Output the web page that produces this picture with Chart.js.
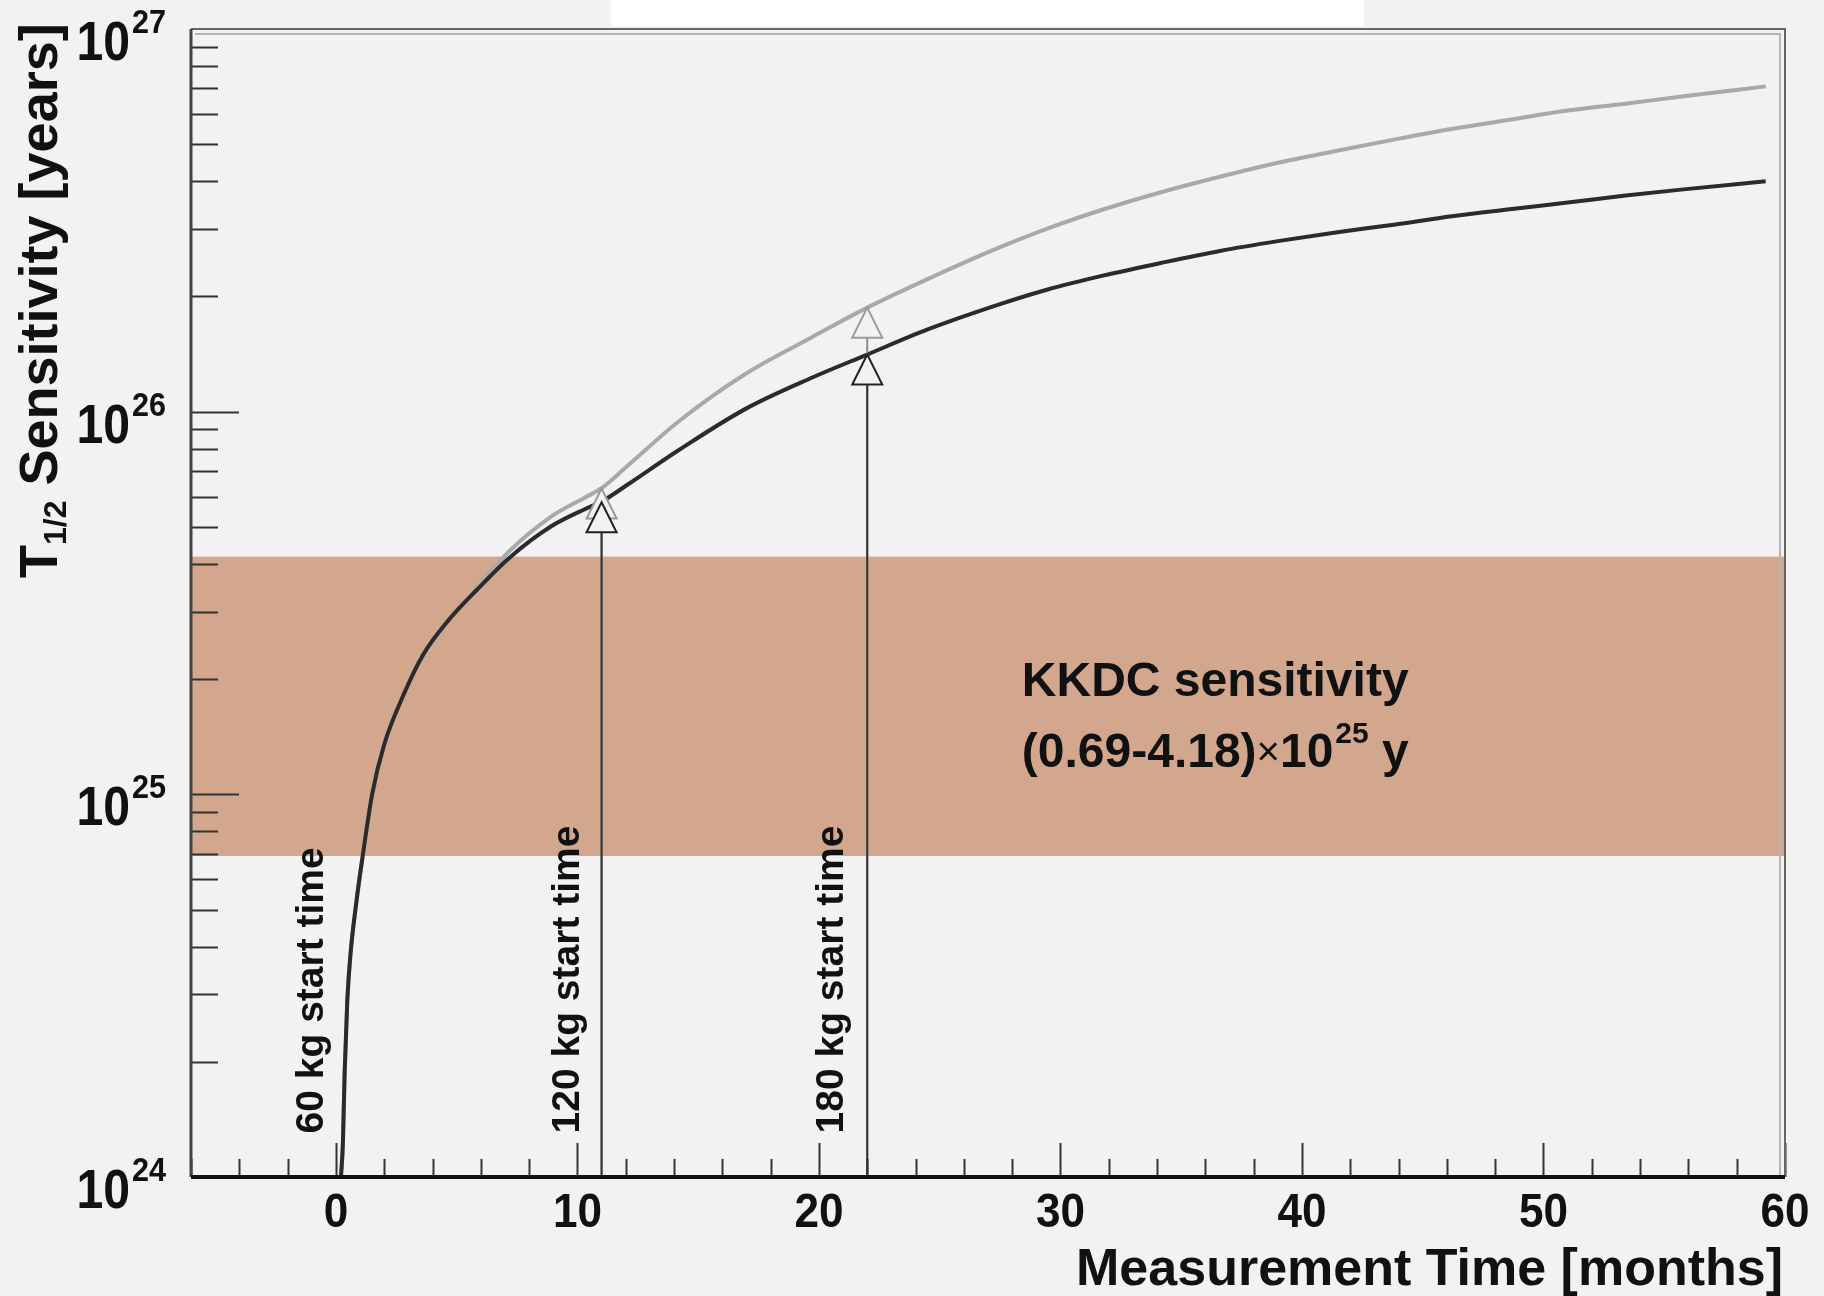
<!DOCTYPE html>
<html>
<head>
<meta charset="utf-8">
<title>T1/2 sensitivity vs measurement time</title>
<script src="https://cdn.jsdelivr.net/npm/chart.js@4.4.0/dist/chart.umd.min.js"></script>
<style>
  html, body { margin: 0; padding: 0; background: #f2f2f2; }
  #wrap { position: relative; width: 1824px; height: 1296px; }
  #cover { position: absolute; left: 611px; top: 0; width: 753px; height: 26px; background: #fff; }
</style>
</head>
<body>
<div id="wrap">
  <canvas id="sensChart" width="1824" height="1296"></canvas>
  <div id="cover"></div>
</div>
<script>
// measurement time [months]
const months = [0.21, 0.29, 0.36, 0.47, 0.6, 0.85, 1.1, 1.5, 2.0, 2.8, 3.6, 4.6, 5.85, 7.2, 8.9, 10.3, 11.0,
  12.1, 14.2, 17.0, 19.75, 22.0, 24.5, 27.5, 29.4, 31.8, 34.2, 36.6, 39.0, 41.4, 43.8, 46.2, 48.6, 51.0, 53.4, 55.8, 59.2];

// T1/2 sensitivity [years], dark curve
const sensDark = [1.00e24, 1.23e24, 1.86e24, 2.88e24, 3.80e24, 5.25e24, 6.84e24, 1.00e25, 1.35e25, 1.82e25, 2.31e25, 2.82e25,
  3.43e25, 4.16e25, 5.01e25, 5.56e25, 5.82e25, 6.46e25, 7.94e25, 1.02e26, 1.23e26, 1.41e26, 1.64e26, 1.91e26, 2.08e26,
  2.27e26, 2.45e26, 2.63e26, 2.79e26, 2.94e26, 3.08e26, 3.24e26, 3.38e26, 3.52e26, 3.67e26, 3.81e26, 4.00e26];

// T1/2 sensitivity [years], grey curve
const sensGrey = [1.00e24, 1.23e24, 1.86e24, 2.88e24, 3.80e24, 5.25e24, 6.84e24, 1.00e25, 1.35e25, 1.82e25, 2.31e25, 2.82e25,
  3.47e25, 4.33e25, 5.31e25, 5.96e25, 6.31e25, 7.24e25, 9.44e25, 1.26e26, 1.57e26, 1.87e26, 2.22e26, 2.69e26, 3.00e26,
  3.38e26, 3.75e26, 4.11e26, 4.47e26, 4.80e26, 5.14e26, 5.48e26, 5.79e26, 6.12e26, 6.38e26, 6.67e26, 7.08e26];

// KKDC band
const bandLow = 0.69e25;
const bandHigh = 4.18e25;

// start-time arrows
const arrowMonths = [11, 22];
const arrowDarkTip = [5.8e25, 1.41e26];
const arrowGreyTip = [6.3e25, 1.87e26];

const startLabels = ['60 kg start time', '120 kg start time', '180 kg start time'];
const startLabelMonths = [-1.1, 9.5, 20.4];
const startLabelBase = 1.3e24;

// axes
const xMajorTicks = [0, 10, 20, 30, 40, 50, 60];
const xTickLabels = ['0', '10', '20', '30', '40', '50', '60'];
const yDecades = [24, 25, 26, 27];
const yTickLabels = ['24', '25', '26', '27'];

const FONT = "'Liberation Sans', Arial, Helvetica, sans-serif";

function toPoints(xs, ys) {
    return xs.map((m, i) => ({ x: m, y: ys[i] }));
}

// text squeezed horizontally, like the original narrow bold font
function narrowText(ctx, text, x, y, sx, align) {
    const w = ctx.measureText(text).width * sx;
    let left = x;
    if (align === 'right') left = x - w;
    if (align === 'center') left = x - w / 2;
    ctx.save();
    ctx.textAlign = 'left';
    ctx.translate(left, y);
    ctx.scale(sx, 1);
    ctx.fillText(text, 0, 0);
    ctx.restore();
    return w;
}

function triangle(ctx, px, py, stroke) {
    // open triangle, apex at (px, py)
    ctx.beginPath();
    ctx.moveTo(px, py);
    ctx.lineTo(px + 15, py + 30);
    ctx.lineTo(px - 15, py + 30);
    ctx.closePath();
    ctx.fillStyle = '#f2f2f2';
    ctx.fill();
    ctx.lineWidth = 2;
    ctx.strokeStyle = stroke;
    ctx.stroke();
}

const decoPlugin = {
    id: 'deco',
    beforeDatasetsDraw(chart) {
        const { ctx, chartArea: a, scales: { y } } = chart;
        const top = y.getPixelForValue(bandHigh);
        const bot = y.getPixelForValue(bandLow);
        ctx.save();
        ctx.fillStyle = '#d2a78e';
        ctx.fillRect(a.left, top, a.right - a.left, bot - top);
        ctx.restore();
    },
    afterDatasetsDraw(chart) {
        const { ctx, chartArea: a, scales: { x, y } } = chart;
        ctx.save();

        // arrow heads
        arrowMonths.forEach((m, i) => {
            const px = x.getPixelForValue(m);
            triangle(ctx, px, y.getPixelForValue(arrowGreyTip[i]), '#9a9a9a');
            triangle(ctx, px, y.getPixelForValue(arrowDarkTip[i]), '#222');
        });

        // start time labels
        ctx.fillStyle = '#111';
        ctx.font = 'bold 39px ' + FONT;
        ctx.textAlign = 'left';
        ctx.textBaseline = 'alphabetic';
        startLabels.forEach((t, i) => {
            ctx.save();
            ctx.translate(x.getPixelForValue(startLabelMonths[i]) + 14, y.getPixelForValue(startLabelBase));
            ctx.rotate(-Math.PI / 2);
            ctx.fillText(t, 0, 0);
            ctx.restore();
        });

        // KKDC text
        const kx = x.getPixelForValue(28.4);
        const ky = y.getPixelForValue(1.81e25);
        ctx.font = 'bold 48px ' + FONT;
        ctx.fillText('KKDC sensitivity', kx, ky);
        let cx = kx;
        const ly = ky + 71;
        const part1 = '(0.69-4.18)';
        ctx.fillText(part1, cx, ly);
        cx += ctx.measureText(part1).width;
        ctx.font = '40px ' + FONT;
        ctx.fillText('\u00d7', cx, ly - 2);
        cx += ctx.measureText('\u00d7').width;
        ctx.font = 'bold 48px ' + FONT;
        ctx.fillText('10', cx, ly);
        cx += ctx.measureText('10').width + 2;
        ctx.font = 'bold 30px ' + FONT;
        ctx.fillText('25', cx, ly - 24);
        cx += ctx.measureText('25').width;
        ctx.font = 'bold 48px ' + FONT;
        ctx.fillText(' y', cx, ly);

        // ticks (inside the frame)
        ctx.strokeStyle = '#333';
        ctx.lineWidth = 2;
        ctx.beginPath();
        for (let m = -6; m <= 60; m += 2) {
            const px = Math.round(x.getPixelForValue(m)) + 0.5;
            const len = m % 10 === 0 ? 34 : 18;
            ctx.moveTo(px, a.bottom);
            ctx.lineTo(px, a.bottom - len);
        }
        for (let d = 24; d <= 26; d++) {
            for (let k = 1; k <= 9; k++) {
                const py = Math.round(y.getPixelForValue(k * Math.pow(10, d))) + 0.5;
                const len = k === 1 ? 48 : 27;
                ctx.moveTo(a.left, py);
                ctx.lineTo(a.left + len, py);
            }
        }
        ctx.stroke();

        // frame
        ctx.lineWidth = 2;
        ctx.strokeStyle = '#b4b4b4';
        ctx.beginPath();
        ctx.moveTo(a.left + 4, a.top + 5);
        ctx.lineTo(a.right - 5, a.top + 5);
        ctx.lineTo(a.right - 5, a.bottom);
        ctx.stroke();
        ctx.strokeStyle = '#666';
        ctx.beginPath();
        ctx.moveTo(a.left, a.top);
        ctx.lineTo(a.right, a.top);
        ctx.lineTo(a.right, a.bottom);
        ctx.stroke();
        ctx.strokeStyle = '#444';
        ctx.lineWidth = 3;
        ctx.beginPath();
        ctx.moveTo(a.left, a.top);
        ctx.lineTo(a.left, a.bottom);
        ctx.stroke();
        ctx.strokeStyle = '#111';
        ctx.lineWidth = 4;
        ctx.beginPath();
        ctx.moveTo(a.left, a.bottom);
        ctx.lineTo(a.right, a.bottom);
        ctx.stroke();

        // x tick labels
        ctx.fillStyle = '#111';
        ctx.font = 'bold 49px ' + FONT;
        xMajorTicks.forEach((m, i) => {
            narrowText(ctx, xTickLabels[i], x.getPixelForValue(m), a.bottom + 50, 0.9, 'center');
        });

        // y tick labels: 10 with exponent
        yDecades.forEach((d, i) => {
            const py = y.getPixelForValue(Math.pow(10, d));
            ctx.font = 'bold 56px ' + FONT;
            narrowText(ctx, '10', 130, py + 31, 0.86, 'right');
            ctx.font = 'bold 34px ' + FONT;
            narrowText(ctx, yTickLabels[i], 132, py + 4, 0.9, 'left');
        });

        // axis titles
        ctx.textAlign = 'right';
        ctx.font = 'bold 52px ' + FONT;
        ctx.fillText('Measurement Time [months]', 1783, 1285);

        ctx.save();
        ctx.translate(57, 578);
        ctx.rotate(-Math.PI / 2);
        ctx.textAlign = 'left';
        ctx.font = 'bold 54px ' + FONT;
        let tx = 0;
        ctx.fillText('T', tx, 0);
        tx += ctx.measureText('T').width;
        ctx.font = 'bold 32px ' + FONT;
        ctx.fillText('1/2', tx, 9);
        tx += ctx.measureText('1/2').width;
        ctx.font = 'bold 54px ' + FONT;
        ctx.fillText(' Sensitivity [years]', tx, 0);
        ctx.restore();

        ctx.restore();
    }
};

const ctx = document.getElementById('sensChart').getContext('2d');
const sensChart = new Chart(ctx, {
    type: 'line',
    data: {
        datasets: [
            {
                label: 'grey',
                data: toPoints(months, sensGrey),
                borderColor: '#a9a9a9',
                borderWidth: 4,
                pointRadius: 0,
                cubicInterpolationMode: 'monotone',
                order: 4
            },
            {
                label: 'dark',
                data: toPoints(months, sensDark),
                borderColor: '#2b2b2b',
                borderWidth: 4,
                pointRadius: 0,
                cubicInterpolationMode: 'monotone',
                order: 3
            },
            ...arrowMonths.map((m, i) => ({
                label: 'grey arrow ' + m,
                data: [{ x: m, y: 1e24 }, { x: m, y: arrowGreyTip[i] }],
                borderColor: '#8c8c8c',
                borderWidth: 2,
                pointRadius: 0,
                order: 2
            })),
            ...arrowMonths.map((m, i) => ({
                label: 'dark arrow ' + m,
                data: [{ x: m, y: 1e24 }, { x: m, y: arrowDarkTip[i] }],
                borderColor: '#333',
                borderWidth: 2,
                pointRadius: 0,
                order: 1
            }))
        ]
    },
    options: {
        responsive: false,
        animation: false,
        events: [],
        layout: { padding: { left: 0, right: 39, top: 29, bottom: 0 } },
        plugins: {
            legend: { display: false },
            tooltip: { enabled: false }
        },
        scales: {
            x: {
                type: 'linear',
                min: -6,
                max: 60,
                grid: { display: false },
                border: { display: false },
                ticks: { display: false },
                afterFit(scale) { scale.height = 119; }
            },
            y: {
                type: 'logarithmic',
                min: 1e24,
                max: 1e27,
                grid: { display: false },
                border: { display: false },
                ticks: { display: false },
                afterFit(scale) { scale.width = 191; }
            }
        }
    },
    plugins: [decoPlugin]
});
</script>
</body>
</html>
